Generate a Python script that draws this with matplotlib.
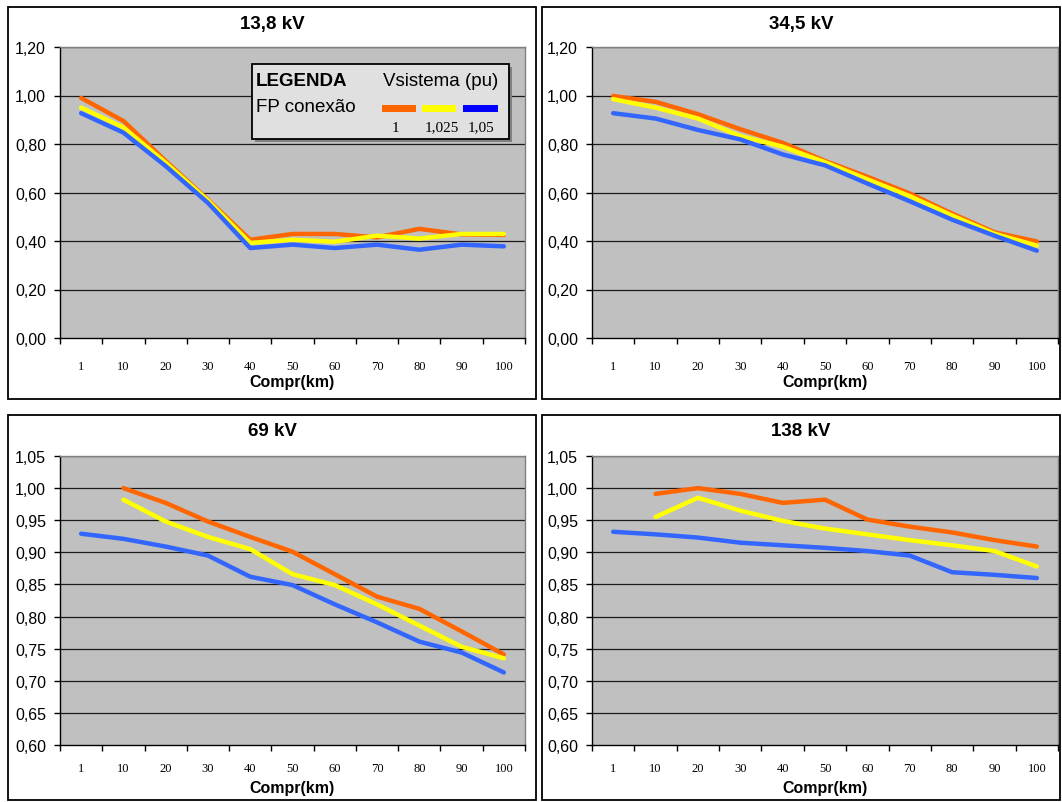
import numpy as np
import matplotlib
matplotlib.use('Agg')
import matplotlib.pyplot as plt
from matplotlib.patches import Rectangle
from matplotlib.ticker import FixedLocator, FuncFormatter

# ---------------- data ----------------
comprimentos = ['1', '10', '20', '30', '40', '50', '60', '70', '80', '90', '100']
serie_labels = ['1', '1,025', '1,05']
cores = ['#FF6600', '#FFFF00', '#3366FF']
cores_legenda = ['#FF6600', '#FFFF00', '#0000FF']
titulos = ['13,8 kV', '34,5 kV', '69 kV', '138 kV']

kv13_fp1 = [0.99, 0.895, 0.73, 0.57, 0.405, 0.429, 0.429, 0.415, 0.45, 0.427, 0.425]
kv13_fp1025 = [0.95, 0.868, 0.723, 0.567, 0.392, 0.405, 0.397, 0.422, 0.41, 0.429, 0.429]
kv13_fp105 = [0.927, 0.847, 0.709, 0.557, 0.371, 0.385, 0.371, 0.385, 0.364, 0.385, 0.378]

kv34_fp1 = [0.998, 0.974, 0.923, 0.861, 0.805, 0.73, 0.665, 0.596, 0.513, 0.436, 0.398]
kv34_fp1025 = [0.985, 0.95, 0.905, 0.833, 0.789, 0.725, 0.654, 0.585, 0.505, 0.43, 0.381]
kv34_fp105 = [0.927, 0.905, 0.858, 0.819, 0.757, 0.712, 0.637, 0.564, 0.488, 0.422, 0.36]

kv69_fp1 = [np.nan, 1.0, 0.977, 0.948, 0.924, 0.901, 0.866, 0.831, 0.812, 0.777, 0.741]
kv69_fp1025 = [np.nan, 0.982, 0.948, 0.924, 0.905, 0.866, 0.849, 0.819, 0.786, 0.753, 0.735]
kv69_fp105 = [0.929, 0.921, 0.909, 0.895, 0.862, 0.849, 0.819, 0.791, 0.761, 0.744, 0.713]

kv138_fp1 = [np.nan, 0.991, 1.0, 0.991, 0.977, 0.982, 0.951, 0.94, 0.931, 0.919, 0.909]
kv138_fp1025 = [np.nan, 0.955, 0.985, 0.965, 0.949, 0.937, 0.928, 0.919, 0.911, 0.902, 0.878]
kv138_fp105 = [0.932, 0.928, 0.923, 0.915, 0.911, 0.907, 0.902, 0.895, 0.869, 0.865, 0.86]

y_ticks_top = [0.0, 0.2, 0.4, 0.6, 0.8, 1.0, 1.2]
y_ticks_bottom = [0.60, 0.65, 0.70, 0.75, 0.80, 0.85, 0.90, 0.95, 1.00, 1.05]

# ---------------- figure ----------------
W, H = 1062, 803
fig = plt.figure(figsize=(W / 100, H / 100), dpi=100)
fig.patch.set_facecolor('white')

SANS = ['Liberation Sans', 'DejaVu Sans']
SERIF = ['Liberation Serif', 'DejaVu Serif']


def rect(x0, y0, x1, y1):
    return [x0 / W, 1 - y1 / H, (x1 - x0) / W, (y1 - y0) / H]


def fx(x):
    return x / W


def fy(y):
    return 1 - y / H


panels = [
    dict(border=(8, 8, 536, 400), plot=(60, 48, 525, 339), title_y=24, xlab_y=383,
         series=[kv13_fp1, kv13_fp1025, kv13_fp105], yt=y_ticks_top, ylim=(0, 1.2), pad=16),
    dict(border=(542, 8, 1060, 400), plot=(592, 48, 1058, 339), title_y=24, xlab_y=383,
         series=[kv34_fp1, kv34_fp1025, kv34_fp105], yt=y_ticks_top, ylim=(0, 1.2), pad=16),
    dict(border=(8, 416, 536, 801), plot=(60, 457, 525, 746), title_y=432, xlab_y=789,
         series=[kv69_fp1, kv69_fp1025, kv69_fp105], yt=y_ticks_bottom, ylim=(0.6, 1.05), pad=12),
    dict(border=(542, 416, 1060, 801), plot=(592, 457, 1058, 746), title_y=432, xlab_y=789,
         series=[kv138_fp1, kv138_fp1025, kv138_fp105], yt=y_ticks_bottom, ylim=(0.6, 1.05), pad=12),
]

x = np.arange(len(comprimentos))

for i, p in enumerate(panels):
    bx0, by0, bx1, by1 = p['border']
    fig.patches.append(Rectangle((fx(bx0), fy(by1)), fx(bx1 - bx0), (by1 - by0) / H,
                                 transform=fig.transFigure, fill=False,
                                 edgecolor='black', linewidth=1.3, zorder=0))
    ax = fig.add_axes(rect(*p['plot']))
    ax.set_facecolor('#C0C0C0')
    for s, c in zip(p['series'], cores):
        ax.plot(x, s, color=c, linewidth=3.2, solid_capstyle='round',
                solid_joinstyle='round', zorder=3)
    ax.set_xlim(-0.5, len(comprimentos) - 0.5)
    ax.set_ylim(*p['ylim'])
    ax.set_yticks(p['yt'])
    ax.yaxis.set_major_formatter(FuncFormatter(lambda v, pos: f'{v:.2f}'.replace('.', ',')))
    for v in p['yt'][1:]:
        ax.axhline(v, color='#1a1a1a', linewidth=0.9, zorder=1)
    ax.xaxis.set_major_locator(FixedLocator(np.arange(-0.5, len(comprimentos), 1.0)))
    ax.xaxis.set_minor_locator(FixedLocator(x))
    ax.set_xticklabels([], minor=False)
    ax.set_xticklabels(comprimentos, minor=True, fontfamily=SERIF, fontsize=9)
    ax.tick_params(axis='x', which='major', length=4, width=1, direction='out', color='black')
    ax.tick_params(axis='x', which='minor', length=0, pad=p['pad'])
    ax.tick_params(axis='y', length=4, width=1, direction='out', pad=6, labelsize=11.5)
    for lab in ax.get_yticklabels():
        lab.set_fontfamily(SANS)
    for side in ['top', 'right']:
        ax.spines[side].set_color('#808080')
        ax.spines[side].set_linewidth(1.0)
    for side in ['left', 'bottom']:
        ax.spines[side].set_color('black')
        ax.spines[side].set_linewidth(1.0)
    cx = (bx0 + bx1) / 2
    fig.text(fx(cx), fy(p['title_y']), titulos[i], ha='center', va='center',
             fontfamily=SANS, fontweight='bold', fontsize=13.5)
    pcx = (p['plot'][0] + p['plot'][2]) / 2
    fig.text(fx(pcx), fy(p['xlab_y']), 'Compr(km)', ha='center', va='center',
             fontfamily=SANS, fontweight='bold', fontsize=11.5)

# ---------------- legend box (panel 1) ----------------
lx0, ly0, lx1, ly1 = 252, 65, 509, 140
fig.patches.append(Rectangle((fx(lx0 + 3), fy(ly1 + 3)), fx(lx1 - lx0), (ly1 - ly0) / H,
                             transform=fig.transFigure, facecolor='#808080',
                             edgecolor='none', zorder=10))
fig.patches.append(Rectangle((fx(lx0), fy(ly1)), fx(lx1 - lx0), (ly1 - ly0) / H,
                             transform=fig.transFigure, facecolor='#E0E0E0',
                             edgecolor='black', linewidth=1.3, zorder=11))
fig.text(fx(256), fy(81), 'LEGENDA', ha='left', va='center', fontfamily=SANS,
         fontweight='bold', fontsize=13.5, zorder=12)
fig.text(fx(383), fy(81), 'Vsistema (pu)', ha='left', va='center', fontfamily=SANS,
         fontsize=13.5, zorder=12)
fig.text(fx(256), fy(108), 'FP conexão', ha='left', va='center', fontfamily=SANS,
         fontsize=13.5, zorder=12)
patch_x = [(382, 416), (422, 456), (463, 498)]
label_cx = [395, 441.5, 481]
for (px0, px1), c, lab, lcx in zip(patch_x, cores_legenda, serie_labels, label_cx):
    fig.patches.append(Rectangle((fx(px0), fy(113)), fx(px1 - px0), 7 / H,
                                 transform=fig.transFigure, facecolor=c,
                                 edgecolor='none', zorder=12))
    fig.text(fx(lcx), fy(128), lab, ha='center', va='center', fontfamily=SERIF,
             fontsize=11, zorder=12)

fig.savefig('out.png', dpi=100, facecolor='white')
